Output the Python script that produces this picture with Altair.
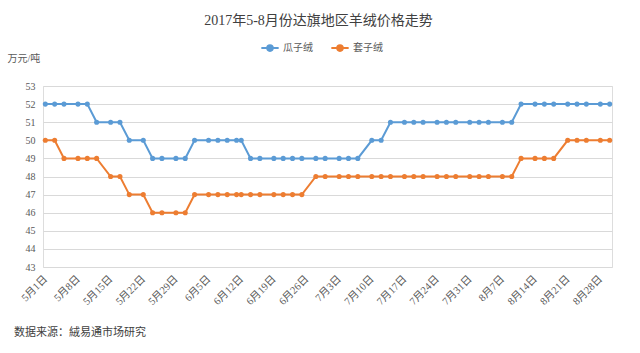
import altair as alt
import pandas as pd

TITLE = "2017年5-8月份达旗地区羊绒价格走势"
UNIT = "万元/吨"
SOURCE_NOTE = "数据来源：絨易通市场研究"
SERIES = ["瓜子绒", "套子绒"]
COLORS = ["#5B9BD5", "#ED7D31"]

DATES = [
    "2017-05-01", "2017-05-03", "2017-05-05", "2017-05-08", "2017-05-10", "2017-05-12",
    "2017-05-15", "2017-05-17", "2017-05-19", "2017-05-22", "2017-05-24", "2017-05-26",
    "2017-05-29", "2017-05-31", "2017-06-02", "2017-06-05", "2017-06-07", "2017-06-09",
    "2017-06-11", "2017-06-12", "2017-06-14", "2017-06-16", "2017-06-19", "2017-06-21",
    "2017-06-23", "2017-06-25", "2017-06-28", "2017-06-30", "2017-07-03", "2017-07-05",
    "2017-07-07", "2017-07-10", "2017-07-12", "2017-07-14", "2017-07-17", "2017-07-19",
    "2017-07-21", "2017-07-24", "2017-07-26", "2017-07-28", "2017-07-31", "2017-08-02",
    "2017-08-04", "2017-08-07", "2017-08-09", "2017-08-11", "2017-08-14", "2017-08-16",
    "2017-08-18", "2017-08-21", "2017-08-23", "2017-08-25", "2017-08-28", "2017-08-30",
]

GUAZI = [52, 52, 52, 52, 52, 51, 51, 51, 50, 50, 49, 49, 49, 49, 50, 50, 50, 50,
         50, 50, 49, 49, 49, 49, 49, 49, 49, 49, 49, 49, 49, 50, 50, 51, 51, 51,
         51, 51, 51, 51, 51, 51, 51, 51, 51, 52, 52, 52, 52, 52, 52, 52, 52, 52]

TAOZI = [50, 50, 49, 49, 49, 49, 48, 48, 47, 47, 46, 46, 46, 46, 47, 47, 47, 47,
         47, 47, 47, 47, 47, 47, 47, 47, 48, 48, 48, 48, 48, 48, 48, 48, 48, 48,
         48, 48, 48, 48, 48, 48, 48, 48, 48, 49, 49, 49, 49, 50, 50, 50, 50, 50]

TICK_DATES = [
    "2017-05-01", "2017-05-08", "2017-05-15", "2017-05-22", "2017-05-29", "2017-06-05",
    "2017-06-12", "2017-06-19", "2017-06-26", "2017-07-03", "2017-07-10", "2017-07-17",
    "2017-07-24", "2017-07-31", "2017-08-07", "2017-08-14", "2017-08-21", "2017-08-28",
]
Y_TICKS = [43, 44, 45, 46, 47, 48, 49, 50, 51, 52, 53]


def to_dt(s, hours=0):
    y, m, d = (int(v) for v in s.split("-"))
    return alt.DateTime(year=y, month=m, date=d, hours=hours, utc=True)


rows = []
for name, vals in zip(SERIES, [GUAZI, TAOZI]):
    for d, v in zip(DATES, vals):
        rows.append({"date": d, "price": v, "series": name})
df = pd.DataFrame(rows)

FONT = "Liberation Serif, Noto Sans CJK SC"

legend_path = ("M-1,0L1,0M-0.32,0A0.32,0.32 0 1,0 0.32,0"
               "A0.32,0.32 0 1,0 -0.32,0")

x_enc = alt.X(
    "date:T",
    scale=alt.Scale(type="utc", domain=[to_dt("2017-04-30", 12), to_dt("2017-08-30", 12)]),
    axis=alt.Axis(
        values=[to_dt(s) for s in TICK_DATES],
        labelExpr="utcFormat(datum.value, '%-m月%-d日')",
        labelAngle=-45,
        labelAlign="right",
        labelBaseline="middle",
        labelPadding=10,
        labelFontSize=10.5,
        labelFont=FONT,
        labelColor="#595959",
        ticks=False,
        domain=False,
        grid=False,
        title=None,
        labelOverlap=False,
    ),
)
y_enc = alt.Y(
    "price:Q",
    scale=alt.Scale(domain=[43, 53], nice=False, zero=False),
    axis=alt.Axis(
        values=Y_TICKS,
        labelFontSize=10,
        labelFont=FONT,
        labelColor="#595959",
        labelPadding=8,
        ticks=False,
        domain=False,
        gridColor="#D9D9D9",
        gridWidth=1,
        title=UNIT,
        titleAngle=0,
        titleX=-36,
        titleY=-28,
        titleAlign="left",
        titleBaseline="middle",
        titleFont=FONT,
        titleFontSize=10,
        titleFontWeight="normal",
        titleColor="#595959",
    ),
)
color_enc = alt.Color(
    "series:N",
    scale=alt.Scale(domain=SERIES, range=COLORS),
    sort=SERIES,
    legend=alt.Legend(
        orient="none",
        direction="horizontal",
        legendX=217,
        legendY=-48,
        title=None,
        symbolType=legend_path,
        symbolSize=300,
        symbolStrokeWidth=2,
        labelFont=FONT,
        labelFontSize=10,
        labelColor="#595959",
        columnPadding=14,
        labelOffset=3,
    ),
)

lines = alt.Chart(df).mark_line(
    strokeWidth=2,
    point=alt.OverlayMarkDef(filled=True, size=26, opacity=1),
).encode(x=x_enc, y=y_enc, color=color_enc)

note = alt.Chart(pd.DataFrame({"t": [SOURCE_NOTE]})).mark_text(
    align="left", baseline="middle", fontSize=11, font=FONT, color="#404040"
).encode(x=alt.value(-29), y=alt.value(247), text="t:N")

chart = alt.layer(lines, note).properties(
    width=569,
    height=181,
    title=alt.TitleParams(
        TITLE,
        anchor="middle",
        font=FONT,
        fontSize=14,
        fontWeight="normal",
        color="#404040",
        dx=-9,
        offset=10,
    ),
    autosize=alt.AutoSizeParams(type="none"),
    padding={"left": 43, "top": 86, "right": 28, "bottom": 86},
).configure_view(stroke=None).configure(background="white")

chart.save("out.html", embed_options={"renderer": "svg", "actions": False})
